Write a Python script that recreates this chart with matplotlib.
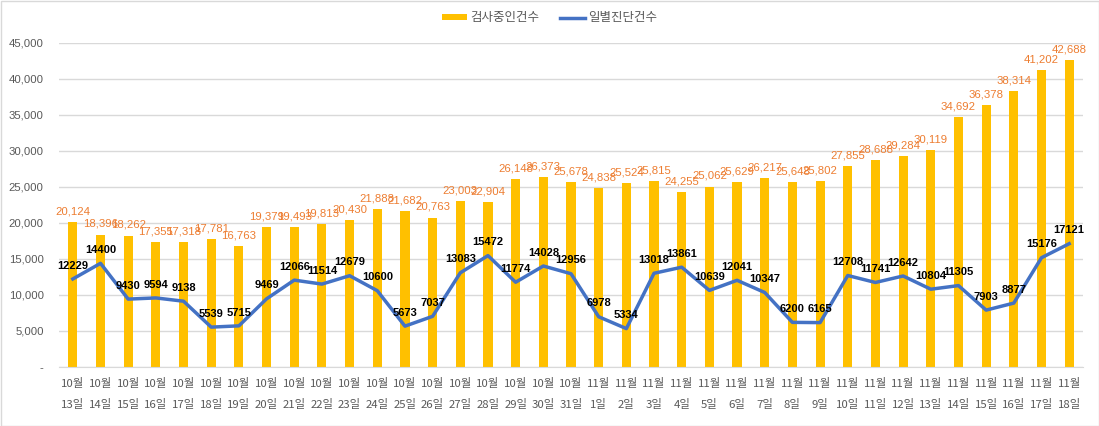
import matplotlib
matplotlib.use("Agg")
import matplotlib.pyplot as plt
from matplotlib.patches import Rectangle, Patch
from matplotlib.lines import Line2D
import numpy as np

plt.rcParams['font.family'] = ['Noto Sans CJK KR', 'DejaVu Sans']

months = ["10월"] * 19 + ["11월"] * 18
days = ["13일", "14일", "15일", "16일", "17일", "18일", "19일", "20일", "21일", "22일",
        "23일", "24일", "25일", "26일", "27일", "28일", "29일", "30일", "31일",
        "1일", "2일", "3일", "4일", "5일", "6일", "7일", "8일", "9일", "10일",
        "11일", "12일", "13일", "14일", "15일", "16일", "17일", "18일"]
categories = [m + "\n" + d for m, d in zip(months, days)]

testing = [20124, 18396, 18262, 17355, 17318, 17781, 16763, 19379, 19493, 19813,
           20430, 21888, 21682, 20763, 23003, 22904, 26148, 26373, 25678, 24838,
           25524, 25815, 24255, 25062, 25629, 26217, 25648, 25802, 27855, 28688,
           29284, 30119, 34692, 36378, 38314, 41202, 42688]
daily = [12229, 14400, 9430, 9594, 9138, 5539, 5715, 9469, 12066, 11514,
         12679, 10600, 5673, 7037, 13083, 15472, 11774, 14028, 12956, 6978,
         5334, 13018, 13861, 10639, 12041, 10347, 6200, 6165, 12708, 11741,
         12642, 10804, 11305, 7903, 8877, 15176, 17121]

series_names = ["검사중인건수", "일별진단건수"]
yticks = [0, 5000, 10000, 15000, 20000, 25000, 30000, 35000, 40000, 45000]
ytick_labels = ["-", "5,000", "10,000", "15,000", "20,000", "25,000", "30,000",
                "35,000", "40,000", "45,000"]

BAR = "#FFC000"
LINE = "#4472C4"
LBL = "#ED7D31"
GRAY = "#595959"
GRID = "#D9D9D9"

fig = plt.figure(figsize=(10.99, 4.26), dpi=100)
ax = fig.add_axes([59 / 1099, 1 - 367 / 426, (1083 - 59) / 1099, (367 - 43) / 426])

x = np.arange(len(categories))
ax.bar(x, testing, width=0.33, color=BAR, zorder=2)
ax.plot(x, daily, color=LINE, linewidth=2.5, zorder=3, solid_joinstyle='round')

for xi, v in zip(x, testing):
    ax.annotate(f"{v:,}", (xi, v), xytext=(0, 4), textcoords="offset points",
                ha="center", va="bottom", fontsize=8.2, color=LBL,
                family=["Liberation Sans", "DejaVu Sans"], zorder=4)
for xi, v in zip(x, daily):
    ax.annotate(f"{v}", (xi, v), xytext=(0, 6), textcoords="offset points",
                ha="center", va="bottom", fontsize=8, color="black", fontweight="bold",
                family=["Liberation Sans", "DejaVu Sans"], zorder=5)

ax.set_xlim(-0.5, len(categories) - 0.5)
ax.set_ylim(0, 45000)
ax.set_yticks(yticks)
ax.set_yticklabels(ytick_labels, family=["Liberation Sans", "DejaVu Sans"])
ax.set_xticks(x)
ax.set_xticklabels(categories, linespacing=2.15)
ax.tick_params(axis="y", length=0, labelsize=8.2, labelcolor=GRAY, pad=11)
ax.tick_params(axis="x", length=0, labelsize=8.2, labelcolor=GRAY, pad=8)
for s in ["top", "right", "left"]:
    ax.spines[s].set_visible(False)
ax.spines["bottom"].set_color(GRID)
ax.grid(axis="y", color=GRID, linewidth=1, zorder=0)
ax.set_axisbelow(True)

handles = [Patch(facecolor=BAR, edgecolor="none"),
           Line2D([0], [0], color=LINE, linewidth=2.5)]
fig.legend(handles, series_names, loc="center", bbox_to_anchor=(0.5, 1 - 18 / 426),
           ncol=2, frameon=False, fontsize=9, labelcolor=GRAY,
           handlelength=2.0, handleheight=0.45, columnspacing=1.6, handletextpad=0.3)

fig.patches.append(Rectangle((0.5 / 1099, 0.5 / 426), 1 - 1 / 1099, 1 - 1 / 426,
                             transform=fig.transFigure, fill=False,
                             edgecolor=GRID, linewidth=1))

fig.savefig("out.png", dpi=100)
